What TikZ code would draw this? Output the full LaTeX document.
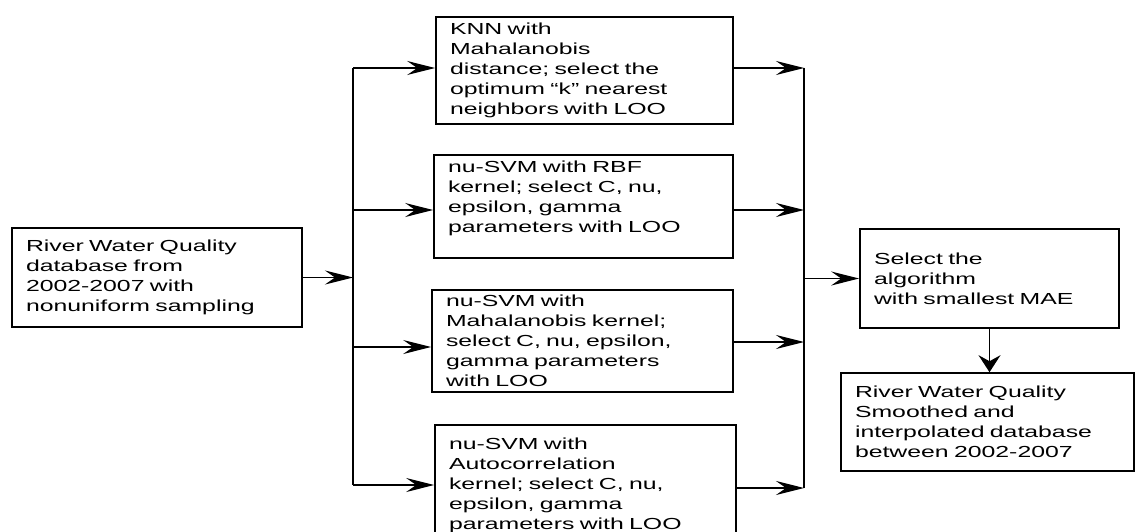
\documentclass[tikz,border=0pt]{standalone}
\usepackage{fontspec}
\setmainfont{Liberation Sans}[FakeStretch=1.55]
\usepackage{tikz}
\usetikzlibrary{arrows.meta,calc}
\tikzset{
  blk/.style={draw=black,line width=1.6pt,align=left,inner xsep=14pt,inner ysep=0pt,font=\fontsize{16}{20}\selectfont},
  bus/.style={draw=black,line width=1.9pt},
  harr/.style={-{Stealth[length=28pt,width=14pt,inset=10pt]},draw=black,line width=1.3pt},
  varr/.style={-{Stealth[length=17pt,width=22pt,inset=6pt]},draw=black,line width=1.5pt}
}

\begin{document}
\begin{tikzpicture}[x=1pt,y=1pt]
\useasboundingbox (0,0) rectangle (1137,-532);
% input data
\node[blk,text width=262pt,minimum height=99pt] (src) at (157,-277.5) {River Water Quality\\database from\\2002-2007 with\\nonuniform sampling};
% candidate algorithms
\node[blk,text width=269pt,minimum height=107pt] (knn) at (584.5,-70.5) {KNN with\\Mahalanobis\\distance; select the\\optimum “k” nearest\\neighbors with LOO};
\node[blk,text width=271pt,minimum height=103pt] (svmrbf) at (583.5,-206.5) {nu-SVM with RBF\\kernel; select C, nu,\\epsilon, gamma\\parameters with LOO\\\mbox{}};
\node[blk,text width=273pt,minimum height=102pt] (svmmah) at (582.5,-341) {nu-SVM with\\Mahalanobis kernel;\\select C, nu, epsilon,\\gamma parameters\\with LOO};
\node[blk,text width=273pt,minimum height=120pt] (svmacf) at (585.5,-485) {nu-SVM with\\Autocorrelation\\kernel; select C, nu,\\epsilon, gamma\\parameters with LOO};
% selection and result
\node[blk,text width=231pt,minimum height=99pt] (select) at (989.5,-278.5) {Select the\\algorithm\\with smallest MAE};
\node[blk,text width=265pt,minimum height=98pt] (result) at (987.5,-422) {River Water Quality\\Smoothed and\\interpolated database\\between 2002-2007};

\coordinate (la) at (353,-68);\coordinate (lb) at (353,-210);
\coordinate (lc) at (353,-347);\coordinate (ld) at (353,-485);
\coordinate (ra) at (804,-68);\coordinate (rb) at (804,-210);
\coordinate (rc) at (804,-342);\coordinate (rd) at (804,-488);

\draw[harr] (src.east) -- (src.east -| la);
\draw[bus] (la) -- (ld);
\draw[harr] (la) -- (la -| knn.west);
\draw[harr] (lb) -- (lb -| svmrbf.west);
\draw[harr] (lc) -- (lc -| svmmah.west);
\draw[harr] (ld) -- (ld -| svmacf.west);

\draw[harr] (ra -| knn.east) -- (ra);
\draw[harr] (rb -| svmrbf.east) -- (rb);
\draw[harr] (rc -| svmmah.east) -- (rc);
\draw[harr] (rd -| svmacf.east) -- (rd);
\draw[bus] (ra) -- (rd);

\draw[harr] (select.west -| ra) -- (select.west);
\draw[varr] (select.south) -- (select.south |- result.north);
\end{tikzpicture}
\end{document}
